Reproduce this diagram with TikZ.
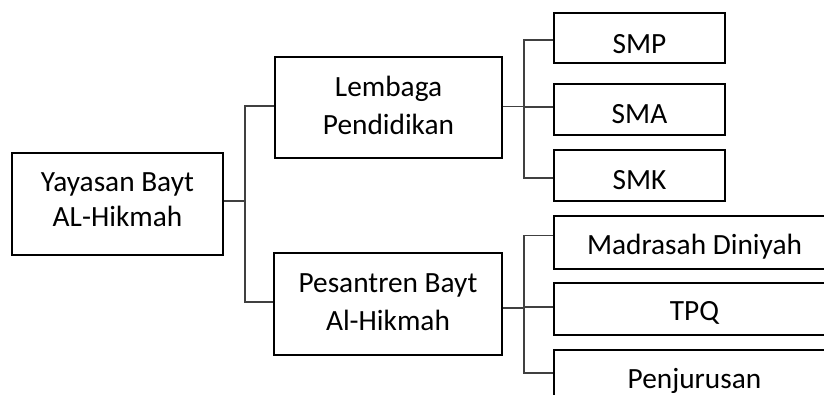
\documentclass[tikz,border=0pt]{standalone}
\usepackage{fontspec}
\setmainfont{Carlito}
\usetikzlibrary{calc}
\begin{document}
\begin{tikzpicture}[x=0.75pt,y=-0.75pt,
  box/.style={draw=black,line width=1.6pt,rectangle,inner sep=0pt,
    align=center,font=\fontsize{22}{28.5}\selectfont},
  % baseline placed #1 px below the box centre
  base/.style={text height=#1*1.5pt,text depth=0pt},
  link/.style={draw=black!75,line width=1pt}]
\useasboundingbox (0,0) rectangle (824,394);
\clip (0,0) rectangle (824,394);

% root and second level
\node[box,font=\fontsize{22}{26.25}\selectfont,text depth=6.75pt,
  minimum width=211*0.75pt,minimum height=102*0.75pt] (root) at (117.5,204) {Yayasan Bayt\\AL-Hikmah};
\node[box,text depth=3.75pt,minimum width=227*0.75pt,minimum height=101*0.75pt] (lem) at (388.5,107.5) {Lembaga\\Pendidikan};
\node[box,text depth=3pt,minimum width=228*0.75pt,minimum height=102*0.75pt] (pes) at (388,304) {Pesantren Bayt\\Al-Hikmah};

% schools
\node[box,base=15,minimum width=171*0.75pt,minimum height=50*0.75pt] (smp) at (639.5,38) {SMP};
\node[box,base=13.5,minimum width=171*0.75pt,minimum height=51*0.75pt] (sma) at (639.5,109.5) {SMA};
\node[box,base=13.5,minimum width=171*0.75pt,minimum height=51*0.75pt] (smk) at (639.5,175.5) {SMK};

% pesantren units
\node[box,base=11.5,minimum width=281*0.75pt,minimum height=53*0.75pt] (mad) at (694.5,242.5) {Madrasah Diniyah};
\node[box,base=11,minimum width=281*0.75pt,minimum height=52*0.75pt] (tpq) at (694.5,309) {TPQ};
\node[box,base=11.5,minimum width=281*0.75pt,minimum height=53*0.75pt] (pen) at (694.5,376.5) {Penjurusan};

% root to second level
\coordinate (b0) at (245,0);
\draw[link] ($(root.east)+(0,-3)$) -- ($(root.east -| b0)+(0,-3)$);
\draw[link] ($(lem.west)+(0,-1.5)$) -- ($(lem.west -| b0)+(0,-1.5)$) -- ($(pes.west -| b0)+(0,-2)$) -- ($(pes.west)+(0,-2)$);

% Lembaga Pendidikan to schools
\coordinate (b1) at (524,0);
\draw[link] ($(lem.east)+(0,-1)$) -- ($(lem.east -| b1)+(0,-1)$);
\draw[link] ($(smp.west)+(0,2)$) -- ($(smp.west -| b1)+(0,2)$) -- ($(smk.west -| b1)+(0,2.5)$) -- ($(smk.west)+(0,2.5)$);
\draw[link] ($(sma.west -| b1)+(0,-2.5)$) -- ($(sma.west)+(0,-2.5)$);

% Pesantren to its units
\draw[link] ($(pes.east)+(0,4)$) -- ($(pes.east -| b1)+(0,4)$);
\draw[link] ($(mad.west)+(0,-7)$) -- ($(mad.west -| b1)+(0,-7)$) -- ($(pen.west -| b1)+(0,-3.5)$) -- ($(pen.west)+(0,-3.5)$);
\draw[link] ($(tpq.west -| b1)+(0,-2)$) -- ($(tpq.west)+(0,-2)$);
\end{tikzpicture}
\end{document}
